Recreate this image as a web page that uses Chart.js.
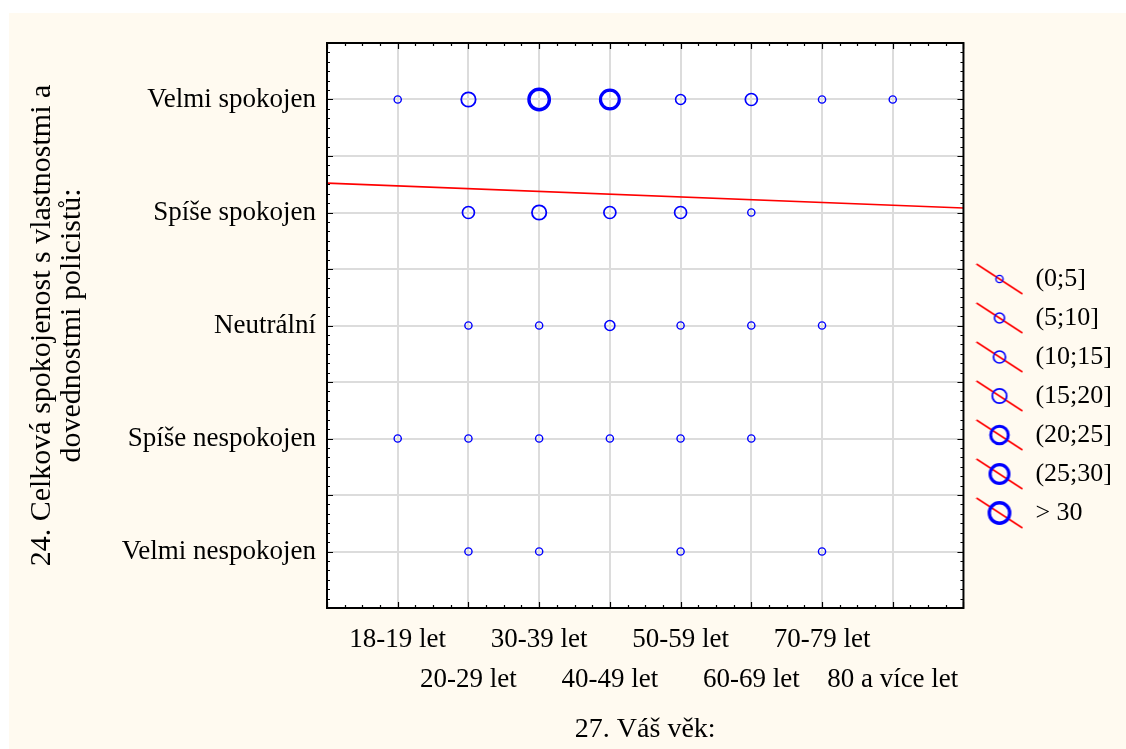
<!DOCTYPE html>
<html>
<head>
<meta charset="utf-8">
<script src="https://cdn.jsdelivr.net/npm/chart.js@4.4.1/dist/chart.umd.min.js"></script>
<style>
	html, body { margin: 0; padding: 0; background: #fff; }
	#wrap { position: absolute; left: 9px; top: 13px; width: 1117px; height: 736px; background: #fffaf0; }
</style>
</head>
<body>
<div id="wrap"><canvas id="myChart" width="1117" height="736"></canvas></div>
<script>
var ageLabels = ['18-19 let', '20-29 let', '30-39 let', '40-49 let', '50-59 let', '60-69 let', '70-79 let', '80 a více let'];
var satisfactionLabels = ['Velmi nespokojen', 'Spíše nespokojen', 'Neutrální', 'Spíše spokojen', 'Velmi spokojen'];

// respondent counts per age group, null = nobody
var countVelmiNespokojen = [null, 1, 2, null, 1, null, 1, null];
var countSpiseNespokojen = [2, 3, 4, 3, 2, 1, null, null];
var countNeutralni = [null, 4, 3, 9, 2, 3, 2, null];
var countSpiseSpokojen = [null, 13, 18, 14, 11, 4, null, null];
var countVelmiSpokojen = [3, 17, 34, 27, 8, 12, 2, 1];

var countClasses = ['(0;5]', '(5;10]', '(10;15]', '(15;20]', '(20;25]', '(25;30]', '> 30'];

// fitted line end points
var fitLineX = [0, 9];
var fitLineY = [4.26, 4.04];

// marker look of each class
var classRadius = [3.6, 5, 6, 7.2, 8.8, 9.4, 10.2];
var classWidth = [1.4, 1.6, 1.7, 1.8, 3, 3.2, 3.4];

var rows = [countVelmiNespokojen, countSpiseNespokojen, countNeutralni, countSpiseSpokojen, countVelmiSpokojen];

function classOf(n) {
	return n > 30 ? 6 : Math.ceil(n / 5) - 1;
}

var classPoints = countClasses.map(function() { return []; });
rows.forEach(function(row, r) {
	row.forEach(function(n, a) {
		if (n != null) classPoints[classOf(n)].push({ x: a + 1, y: r + 1 });
	});
});

function legendIcon(i) {
	var c = document.createElement('canvas');
	c.width = 48;
	c.height = 32;
	var g = c.getContext('2d');
	g.strokeStyle = '#ff0000';
	g.lineWidth = 1.6;
	g.beginPath();
	g.moveTo(1, 1);
	g.lineTo(47, 31);
	g.stroke();
	g.strokeStyle = '#0000ff';
	g.lineWidth = classWidth[i];
	g.beginPath();
	g.arc(24, 16, classRadius[i], 0, Math.PI * 2);
	g.stroke();
	return c;
}
var icons = countClasses.map(function(t, i) { return legendIcon(i); });

var datasets = countClasses.map(function(label, i) {
	return {
		type: 'scatter',
		label: label,
		data: classPoints[i],
		pointStyle: 'circle',
		pointRadius: classRadius[i],
		pointHoverRadius: classRadius[i],
		pointBorderWidth: classWidth[i],
		pointHoverBorderWidth: classWidth[i],
		pointBorderColor: '#0000ff',
		pointBackgroundColor: 'rgba(0,0,0,0)'
	};
});
datasets.push({
	type: 'line',
	label: 'fit',
	data: fitLineX.map(function(x, i) { return { x: x, y: fitLineY[i] }; }),
	borderColor: '#ff0000',
	borderWidth: 1.6,
	pointRadius: 0,
	tension: 0
});

var plotBackground = {
	id: 'plotBackground',
	beforeDraw: function(chart) {
		var a = chart.chartArea, ctx = chart.ctx;
		ctx.save();
		ctx.fillStyle = '#ffffff';
		ctx.fillRect(a.left, a.top, a.right - a.left, a.bottom - a.top);
		ctx.restore();
	}
};

// black frame with inward ticks on all four sides
var frameTicks = {
	id: 'frameTicks',
	afterDraw: function(chart) {
		var a = chart.chartArea, ctx = chart.ctx;
		var xs = chart.scales.x, ys = chart.scales.y;
		ctx.save();
		ctx.strokeStyle = '#000';
		ctx.lineWidth = 1.2;
		ctx.beginPath();
		for (var k = 0; k <= 36; k++) {
			var px = Math.round(xs.getPixelForValue(k / 4)) + 0.5;
			var len = k % 4 === 0 ? 6 : 3;
			ctx.moveTo(px, a.bottom); ctx.lineTo(px, a.bottom - len);
			ctx.moveTo(px, a.top); ctx.lineTo(px, a.top + len);
		}
		for (var j = 0; j <= 60; j++) {
			var py = Math.round(ys.getPixelForValue(0.5 + j / 12)) + 0.5;
			var l2 = j % 6 === 0 ? 6 : 3;
			ctx.moveTo(a.left, py); ctx.lineTo(a.left + l2, py);
			ctx.moveTo(a.right, py); ctx.lineTo(a.right - l2, py);
		}
		ctx.stroke();
		ctx.lineWidth = 2;
		ctx.strokeRect(a.left, a.top, a.right - a.left, a.bottom - a.top);
		ctx.restore();
	}
};

Chart.defaults.font.family = '"Liberation Serif", "Times New Roman", serif';
Chart.defaults.color = '#000';

var ctx = document.getElementById('myChart');
var myChart = new Chart(ctx, {
	type: 'scatter',
	data: { datasets: datasets },
	plugins: [plotBackground, frameTicks],
	options: {
		responsive: false,
		animation: false,
		layout: { padding: { top: 30, right: 4, bottom: 0, left: 0 } },
		scales: {
			x: {
				type: 'linear',
				min: 0,
				max: 9,
				afterBuildTicks: function(scale) {
					scale.ticks = ageLabels.map(function(t, i) { return { value: i + 1 }; });
				},
				afterFit: function(scale) { scale.height = 141; },
				border: { display: false },
				grid: { color: '#dcdcdc', lineWidth: 2, drawTicks: false },
				ticks: {
					autoSkip: false,
					maxRotation: 0,
					padding: 12,
					font: { size: 27, lineHeight: 1.48 },
					callback: function(value) {
						var label = ageLabels[value - 1];
						if (!label) return '';
						return value % 2 === 0 ? ['', label] : label;
					}
				},
				title: {
					display: true,
					text: '27. Váš věk:',
					font: { size: 28 },
					padding: { top: 0, bottom: 3 }
				}
			},
			y: {
				type: 'linear',
				min: 0.5,
				max: 5.5,
				afterBuildTicks: function(scale) {
					var t = [];
					for (var v = 0.5; v <= 5.5; v += 0.5) t.push({ value: v });
					scale.ticks = t;
				},
				afterFit: function(scale) { scale.width = 318; },
				border: { display: false },
				grid: { color: '#dcdcdc', lineWidth: 2, drawTicks: false },
				ticks: {
					autoSkip: false,
					padding: 11,
					font: { size: 27 },
					callback: function(value) {
						return Number.isInteger(value) ? satisfactionLabels[value - 1] : '';
					}
				},
				title: {
					display: true,
					text: ['24. Celková spokojenost s vlastnostmi a', 'dovednostmi policistů:'],
					font: { size: 30, lineHeight: 1.0 },
					padding: { top: 18, bottom: 0 }
				}
			}
		},
		plugins: {
			tooltip: { enabled: false },
			legend: {
				position: 'right',
				align: 'center',
				labels: {
					usePointStyle: true,
					pointStyleWidth: 46,
					padding: 13,
					font: { size: 26 },
					color: '#000',
					generateLabels: function(chart) {
						return countClasses.map(function(t, i) {
							return {
								text: t,
								pointStyle: icons[i],
								fontColor: '#000',
								fillStyle: 'rgba(0,0,0,0)',
								strokeStyle: 'rgba(0,0,0,0)',
								lineWidth: 0,
								hidden: false,
								datasetIndex: i
							};
						});
					}
				}
			}
		}
	}
});
</script>
</body>
</html>
